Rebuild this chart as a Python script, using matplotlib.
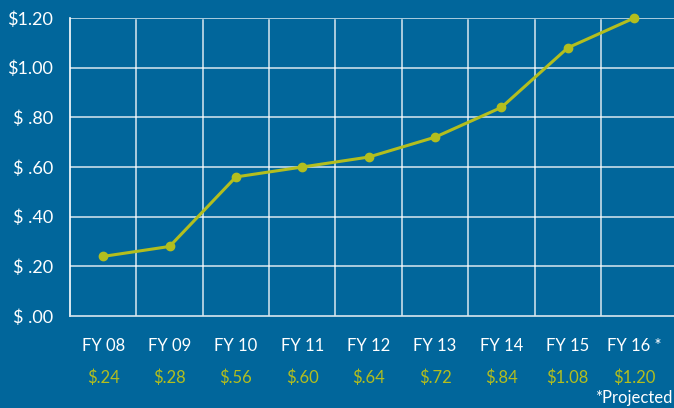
import numpy as np
import matplotlib.pyplot as plt
from matplotlib.transforms import blended_transform_factory

# Data
years = ["FY 08", "FY 09", "FY 10", "FY 11", "FY 12", "FY 13", "FY 14", "FY 15", "FY 16 *"]
values = [0.24, 0.28, 0.56, 0.60, 0.64, 0.72, 0.84, 1.08, 1.20]
value_labels = ["$.24", "$.28", "$.56", "$.60", "$.64", "$.72", "$.84", "$1.08", "$1.20"]
y_ticks = [0.0, 0.2, 0.4, 0.6, 0.8, 1.0, 1.2]
y_tick_labels = ["$ .00", "$ .20", "$ .40", "$ .60", "$ .80", "$1.00", "$1.20"]

bg = "#01669b"
green = "#b3be1e"
plt.rcParams['font.family'] = ['Lato', 'DejaVu Sans']

fig = plt.figure(figsize=(6.74, 4.08), dpi=100, facecolor=bg)
ax = fig.add_axes([70 / 674, (408 - 316) / 408, 604 / 674, (316 - 18) / 408])
ax.set_facecolor(bg)

x = np.arange(len(years))
ax.plot(x, values, color=green, lw=2.2, marker="o", ms=6, clip_on=False, zorder=5)

ax.set_xlim(-0.5, 8.6)
ax.set_ylim(0, 1.2)

# grid
for yv in y_ticks[1:]:
    ax.axhline(yv, color="white", lw=1.1, alpha=0.85, zorder=1)
for xv in np.arange(0.5, 8.0, 1.0):
    ax.plot([xv, xv], [0, 1.19], color="white", lw=1.1, alpha=0.85, zorder=1)

for s in ["top", "right"]:
    ax.spines[s].set_visible(False)
ax.spines["left"].set_color("white")
ax.spines["bottom"].set_color("#d8e6ef")
ax.spines["left"].set_linewidth(1.2)
ax.spines["bottom"].set_linewidth(1.2)

ax.set_yticks(y_ticks)
ax.set_yticklabels(y_tick_labels, color="white", fontsize=13)
ax.tick_params(axis="y", length=0, pad=12)
ax.set_xticks([])

trans = blended_transform_factory(ax.transData, fig.transFigure)
for xi, yr, vl in zip(x, years, value_labels):
    ax.text(xi, 1 - 346 / 408, yr, transform=trans, ha="center", va="center",
            color="white", fontsize=12)
    ax.text(xi, 1 - 378 / 408, vl, transform=trans, ha="center", va="center",
            color=green, fontsize=12)

fig.text(672 / 674, 1 - 398 / 408, "*Projected", ha="right", va="center",
         color="white", fontsize=12)

fig.savefig("out.png", dpi=100, facecolor=bg)
